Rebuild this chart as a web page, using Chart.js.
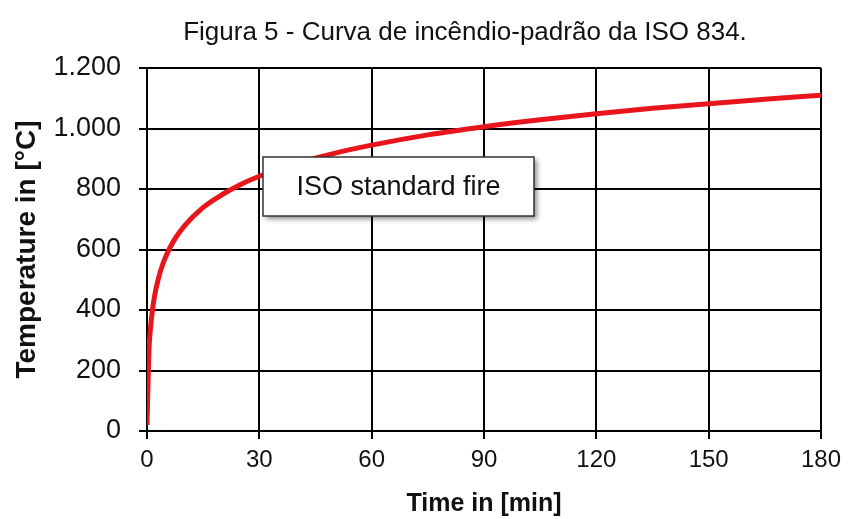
<!DOCTYPE html>
<html>
<head>
<meta charset="utf-8">
<script src="https://cdn.jsdelivr.net/npm/chart.js@4.4.1/dist/chart.umd.min.js"></script>
<style>
  html, body { margin: 0; padding: 0; background: #fff; }
  #wrap { width: 848px; height: 519px; position: relative; }
</style>
</head>
<body>
<div id="wrap"><canvas id="chart"></canvas></div>
<script>
// ISO 834 curve
const timeMin = [0, 0.5, 1, 1.5, 2, 3, 4, 5, 7, 10, 15, 20, 25, 30, 40, 50, 60, 75, 90, 105, 120, 135, 150, 165, 180];
const tempC = [20, 261, 349, 404, 445, 502, 544, 576, 626, 678, 739, 781, 815, 842, 885, 918, 945, 979, 1006, 1029, 1049, 1067, 1082, 1097, 1110];
const xTicks = [0, 30, 60, 90, 120, 150, 180];
const yTicks = [0, 200, 400, 600, 800, 1000, 1200];

const chartTitle = 'Figura 5 - Curva de incêndio-padrão da ISO 834.';
const seriesLabel = 'ISO standard fire';

const points = timeMin.map((t, i) => ({ x: t, y: tempC[i] }));

// title + callout box
const extras = {
    id: 'extras',
    afterDraw(chart) {
        const ctx = chart.ctx;
        ctx.save();
        ctx.fillStyle = '#111';
        ctx.font = '26px "Liberation Sans", Arial, sans-serif';
        ctx.textAlign = 'center';
        ctx.textBaseline = 'middle';
        ctx.fillText(chartTitle, 465, 33);

        const bx = 263, by = 157, bw = 271, bh = 59;
        ctx.shadowColor = 'rgba(0,0,0,0.45)';
        ctx.shadowBlur = 5;
        ctx.shadowOffsetX = 3;
        ctx.shadowOffsetY = 3;
        ctx.fillStyle = '#fff';
        ctx.fillRect(bx, by, bw, bh);
        ctx.shadowColor = 'transparent';
        ctx.strokeStyle = '#333';
        ctx.lineWidth = 1.5;
        ctx.strokeRect(bx, by, bw, bh);
        ctx.fillStyle = '#111';
        ctx.font = '27px "Liberation Sans", Arial, sans-serif';
        ctx.fillText(seriesLabel, bx + bw / 2, by + bh / 2 + 1);
        ctx.restore();
    }
};

new Chart(document.getElementById('chart'), {
    type: 'line',
    data: {
        datasets: [{
            label: seriesLabel,
            data: points,
            borderColor: '#e8161c',
            borderWidth: 5,
            pointRadius: 0,
            cubicInterpolationMode: 'monotone',
            fill: false
        }]
    },
    options: {
        responsive: true,
        maintainAspectRatio: false,
        animation: false,
        layout: { padding: { top: 68, right: 26, left: 0, bottom: 0 } },
        plugins: {
            legend: { display: false },
            tooltip: { enabled: false }
        },
        scales: {
            x: {
                type: 'linear',
                min: 0,
                max: 180,
                afterBuildTicks: (s) => { s.ticks = xTicks.map(v => ({ value: v })); },
                afterFit: (s) => { s.height = 88; },
                grid: { color: '#000', lineWidth: 2, tickLength: 8 },
                border: { color: '#000', width: 2 },
                ticks: { color: '#111', padding: 7, font: { family: '"Liberation Sans", Arial', size: 24 } },
                title: {
                    display: true,
                    text: 'Time in [min]',
                    color: '#111',
                    padding: { top: 0, bottom: 0 },
                    font: { family: '"Liberation Sans", Arial', size: 25, weight: 'bold' }
                }
            },
            y: {
                min: 0,
                max: 1200,
                afterBuildTicks: (s) => { s.ticks = yTicks.map(v => ({ value: v })); },
                afterFit: (s) => { s.width = 147; },
                grid: { color: '#000', lineWidth: 2, tickLength: 8 },
                border: { color: '#000', width: 2 },
                ticks: {
                    color: '#111',
                    padding: 18,
                    font: { family: '"Liberation Sans", Arial', size: 27 },
                    callback: (v) => v.toLocaleString('de-DE')
                },
                title: {
                    display: true,
                    text: 'Temperature in [°C]',
                    color: '#111',
                    padding: { top: 10, bottom: 0 },
                    font: { family: '"Liberation Sans", Arial', size: 28, weight: 'bold' }
                }
            }
        }
    },
    plugins: [extras]
});
</script>
</body>
</html>
